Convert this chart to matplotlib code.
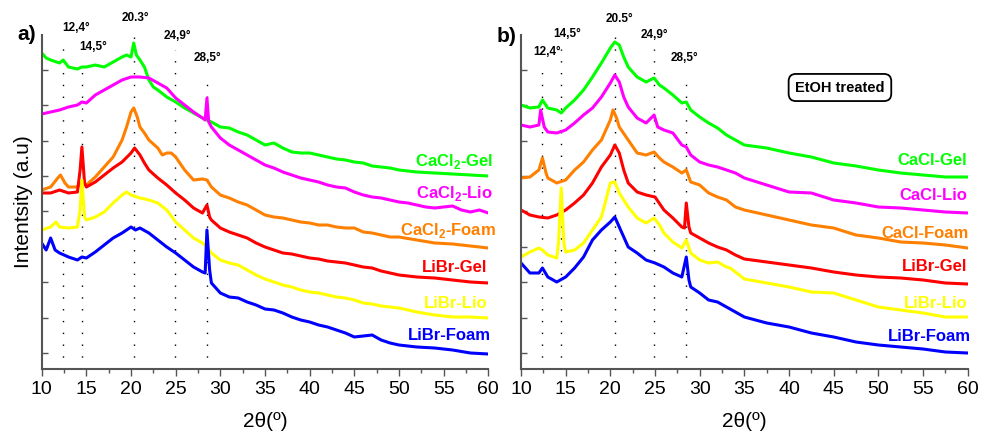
import matplotlib
matplotlib.use("Agg")
import matplotlib.pyplot as plt
from matplotlib.ticker import MultipleLocator, FixedLocator, NullFormatter

plt.rcParams['font.family'] = ['Liberation Sans', 'DejaVu Sans']
plt.rcParams['mathtext.fontset'] = 'custom'
plt.rcParams['mathtext.rm'] = 'Liberation Sans'
plt.rcParams['mathtext.bf'] = 'Liberation Sans:bold'

# ---------------- panel a: as prepared ----------------
a_cacl2_gel = [(10, 316), (10.5, 311), (11, 309), (12, 306), (12.4, 309), (13, 302), (14, 300),
               (14.5, 302), (15, 302), (16, 304), (17, 302), (18, 307), (19, 312), (19.5, 314),
               (20, 312), (20.3, 326), (20.6, 314), (21, 309), (21.5, 302), (22, 289), (22.5, 282),
               (23, 279), (24, 272), (25, 267), (26, 261), (27, 256), (28, 251), (29, 247),
               (30, 242), (31, 241), (32, 237), (33, 234), (34, 229), (35, 224), (36, 226),
               (37, 221), (38, 217), (39, 216), (40, 216), (41, 214), (42, 212), (43, 210),
               (44, 209), (45, 207), (46, 206), (47, 203), (48, 202), (49, 201), (50, 199),
               (52, 197), (54, 196), (56, 195), (58, 194), (60, 193)]
a_cacl2_lio = [(10, 255), (11, 257), (12, 259), (13, 262), (14, 264), (14.5, 267), (15, 266),
               (16, 274), (17, 279), (18, 284), (19, 289), (20, 292), (21, 292), (22, 291),
               (23, 286), (24, 281), (25, 271), (26, 264), (27, 257), (28, 251), (28.3, 249),
               (28.5, 271), (28.7, 247), (29, 242), (30, 231), (31, 224), (32, 219), (33, 214),
               (34, 209), (35, 204), (36, 201), (37, 197), (38, 194), (39, 191), (40, 189),
               (41, 187), (42, 184), (43, 182), (44, 181), (45, 177), (46, 174), (47, 172),
               (48, 171), (49, 169), (50, 167), (51, 166), (52, 164), (53, 162), (54, 161),
               (55, 162), (56, 163), (57, 159), (58, 157), (59, 159), (60, 156)]
a_cacl2_foam = [(10, 179), (11, 182), (11.8, 191), (12.1, 194), (12.6, 186), (13, 182), (14, 182),
                (14.5, 186), (15, 184), (16, 192), (17, 202), (18, 212), (19, 229), (19.5, 242),
                (20, 257), (20.3, 261), (20.7, 252), (21, 242), (21.5, 236), (22, 229), (23, 221),
                (23.5, 214), (24, 216), (24.5, 216), (25, 212), (26, 199), (27, 189), (28, 190),
                (28.5, 189), (29, 182), (30, 174), (31, 171), (32, 167), (33, 164), (34, 159),
                (35, 154), (36, 152), (37, 151), (38, 149), (39, 147), (40, 146), (41, 144),
                (42, 144), (43, 142), (44, 141), (45, 141), (46, 137), (47, 136), (48, 134),
                (49, 132), (50, 132), (52, 129), (54, 126), (56, 125), (58, 123), (60, 121)]
a_libr_gel = [(10, 176), (11, 176), (12, 179), (13, 176), (14, 177), (14.3, 199), (14.5, 222),
              (14.8, 186), (15, 182), (16, 187), (17, 194), (18, 201), (19, 207), (20, 216),
              (20.4, 221), (21, 214), (21.5, 206), (22, 199), (23, 191), (24, 184), (25, 176),
              (26, 169), (27, 161), (28, 156), (28.5, 164), (28.8, 152), (29, 149), (30, 141),
              (31, 137), (32, 134), (33, 131), (34, 126), (35, 122), (36, 119), (37, 116),
              (38, 115), (39, 113), (40, 111), (41, 110), (42, 108), (43, 107), (44, 106),
              (45, 104), (46, 102), (47, 101), (48, 98), (49, 96), (50, 94), (52, 92), (54, 91),
              (56, 89), (58, 87), (60, 86)]
a_libr_lio = [(10, 139), (11, 142), (11.6, 147), (12, 142), (13, 141), (14, 142), (14.3, 159),
              (14.5, 189), (14.8, 152), (15, 149), (16, 152), (17, 157), (18, 166), (19, 174),
              (19.5, 177), (20, 174), (21, 171), (22, 169), (23, 166), (24, 159), (25, 147),
              (26, 139), (27, 131), (28, 126), (28.5, 122), (29, 116), (30, 109), (31, 106),
              (32, 104), (33, 99), (34, 94), (35, 90), (36, 87), (37, 84), (38, 82), (39, 79),
              (40, 77), (41, 76), (42, 74), (43, 72), (44, 71), (45, 69), (46, 66), (47, 65),
              (48, 63), (49, 62), (50, 61), (52, 57), (54, 54), (56, 52), (58, 52), (60, 51)]
a_libr_foam = [(10, 126), (10.5, 119), (11, 131), (11.5, 119), (12, 116), (13, 112), (14, 109),
               (14.5, 112), (15, 111), (16, 117), (17, 124), (18, 131), (19, 136), (20, 142),
               (20.5, 139), (21, 141), (22, 136), (23, 129), (24, 122), (25, 116), (26, 109),
               (27, 102), (28, 97), (28.3, 96), (28.5, 139), (28.8, 99), (29, 86), (30, 76),
               (31, 72), (32, 71), (33, 67), (34, 64), (35, 60), (36, 59), (37, 56), (38, 52),
               (39, 49), (40, 47), (41, 44), (42, 42), (43, 39), (44, 36), (45, 32), (46, 33),
               (47, 34), (48, 29), (49, 26), (50, 24), (52, 22), (54, 21), (56, 19), (58, 16),
               (60, 15)]

# ---------------- panel b: EtOH treated ----------------
b_cacl_gel = [(10, 264), (11, 261), (12, 262), (12.4, 269), (13, 261), (14, 259), (14.5, 256),
              (15, 261), (16, 269), (17, 279), (18, 292), (19, 306), (20, 321), (20.5, 327),
              (21, 324), (21.5, 312), (22, 302), (23, 292), (24, 287), (24.9, 291), (25.5, 284),
              (26, 281), (27, 274), (28, 266), (28.5, 267), (29, 259), (30, 252), (31, 246),
              (32, 241), (33, 234), (34, 229), (35, 224), (37.5, 221), (40, 216), (42.5, 212),
              (45, 206), (47.5, 203), (50, 199), (52.5, 196), (55, 194), (57.5, 192), (60, 192)]
b_cacl_lio = [(10, 244), (11, 242), (12, 244), (12.2, 259), (12.6, 242), (13, 237), (14, 236),
              (15, 239), (16, 246), (17, 254), (18, 261), (19, 272), (20, 286), (20.5, 294),
              (21, 287), (21.5, 272), (22, 262), (23, 251), (24, 246), (24.9, 254), (25.3, 242),
              (26, 239), (27, 236), (28, 224), (28.5, 222), (29, 214), (30, 207), (31, 204),
              (32, 202), (33, 199), (34, 196), (35, 191), (37.5, 184), (40, 177), (42.5, 176),
              (45, 169), (47.5, 166), (50, 162), (52.5, 161), (55, 159), (57.5, 157), (60, 156)]
b_cacl_foam = [(10, 191), (11, 192), (12, 199), (12.4, 211), (12.8, 196), (13, 191), (14, 186),
               (15, 189), (16, 199), (17, 207), (18, 219), (19, 229), (20, 249), (20.3, 259),
               (20.7, 251), (21, 242), (22, 229), (23, 216), (24, 214), (24.9, 217), (25.5, 211),
               (26, 207), (27, 202), (28, 196), (28.5, 199), (29, 187), (30, 184), (31, 176),
               (32, 172), (33, 169), (34, 162), (35, 159), (37.5, 154), (40, 149), (42.5, 144),
               (45, 141), (47.5, 134), (50, 131), (52.5, 127), (55, 126), (57.5, 124), (60, 121)]
b_libr_gel = [(10, 159), (11, 154), (12, 152), (13, 151), (14, 154), (15, 159), (16, 166),
              (17, 174), (18, 186), (19, 202), (20, 214), (20.5, 224), (21, 216), (21.5, 199),
              (22, 186), (23, 177), (24, 174), (25, 172), (26, 159), (27, 151), (28, 142),
              (28.3, 141), (28.5, 166), (28.8, 142), (29, 136), (30, 131), (31, 126), (32, 122),
              (33, 119), (34, 114), (35, 110), (37.5, 107), (40, 104), (42.5, 101), (45, 97),
              (47.5, 94), (50, 92), (52.5, 91), (55, 89), (57.5, 86), (60, 85)]
b_libr_lio = [(10, 112), (11, 117), (12, 121), (12.4, 119), (13, 114), (14, 111), (14.2, 126),
              (14.5, 181), (14.8, 126), (15, 117), (16, 119), (17, 126), (18, 139), (19, 152),
              (19.5, 169), (20, 186), (20.5, 187), (21, 176), (22, 162), (23, 151), (24, 146),
              (24.9, 151), (25.5, 144), (26, 136), (27, 127), (28, 121), (28.5, 129), (29, 116),
              (30, 109), (31, 106), (32, 107), (33, 102), (33.4, 101), (34, 97), (35, 90),
              (37.5, 86), (40, 82), (42.5, 77), (45, 76), (47.5, 69), (50, 62), (52.5, 59),
              (55, 56), (57.5, 52), (60, 52)]
b_libr_foam = [(10, 106), (11, 96), (12, 96), (12.4, 101), (13, 92), (14, 87), (15, 92),
               (16, 101), (17, 112), (18, 129), (19, 139), (20, 147), (20.5, 152), (21, 142),
               (21.5, 132), (22, 122), (23, 116), (24, 109), (25, 106), (26, 102), (27, 96),
               (28, 92), (28.5, 112), (28.8, 89), (29, 82), (30, 76), (31, 69), (32, 67),
               (33, 62), (34, 57), (35, 52), (37.5, 46), (40, 42), (42.5, 36), (45, 32),
               (47.5, 27), (50, 24), (52.5, 22), (55, 20), (57.5, 17), (60, 16)]

series_colors = ['#00FF00', '#FF00FF', '#FF8000', '#FF0000', '#FFFF00', '#0000FF']

a_series = [a_cacl2_gel, a_cacl2_lio, a_cacl2_foam, a_libr_gel, a_libr_lio, a_libr_foam]
b_series = [b_cacl_gel, b_cacl_lio, b_cacl_foam, b_libr_gel, b_libr_lio, b_libr_foam]

a_names = [r'CaCl$_\mathbf{2}$-Gel', r'CaCl$_\mathbf{2}$-Lio', r'CaCl$_\mathbf{2}$-Foam',
           'LiBr-Gel', 'LiBr-Lio', 'LiBr-Foam']
b_names = ['CaCl-Gel', 'CaCl-Lio', 'CaCl-Foam', 'LiBr-Gel', 'LiBr-Lio', 'LiBr-Foam']

# curve name anchors (right edge x, baseline y)
a_name_pos = [(60.5, 203), (60.5, 171), (60.8, 134), (59.9, 97), (59.9, 61), (60.3, 29)]
b_name_pos = [(59.95, 204), (59.95, 169), (60.05, 131), (59.95, 98), (59.95, 61), (60.3, 28)]

# reflection markers
a_peaks = [12.4, 14.5, 20.3, 24.9, 28.5]
a_peak_text = ['12,4°', '14,5°', '20.3°', '24,9°', '28,5°']
a_peak_top = [330, 307, 337, 319, 293]
a_peak_label_pos = [(13.84, 341), (15.74, 322), (20.5, 351), (25.15, 333), (28.5, 311)]

b_peaks = [12.4, 14.5, 20.5, 24.9, 28.5]
b_peak_text = ['12,4°', '14,5°', '20.5°', '24,9°', '28,5°']
b_peak_top = [304, 320, 337, 320, 293]
b_peak_label_pos = [(12.91, 317), (15.2, 335), (21.03, 350), (24.9, 334), (28.3, 311)]

y_ticks = [16 + 35.4 * k for k in range(9)]
x_major = list(range(10, 61, 5))

W, H = 983, 438
fig = plt.figure(figsize=(W / 100, H / 100), dpi=100)
ax_a = fig.add_axes([41.7 / W, 69 / H, 446.6 / W, 334 / H])
ax_b = fig.add_axes([521 / W, 69 / H, 446.7 / W, 334 / H])

spine_col = '#555555'


def draw_panel(ax, series, names, name_pos, peaks, peak_text, peak_top, peak_label_pos):
    ax.set_xlim(10, 60)
    ax.set_ylim(0, 334)
    for s in ('top', 'right'):
        ax.spines[s].set_visible(False)
    for s in ('left', 'bottom'):
        ax.spines[s].set_color(spine_col)
        ax.spines[s].set_linewidth(1.5)
    ax.xaxis.set_major_locator(FixedLocator(x_major))
    ax.xaxis.set_minor_locator(MultipleLocator(2.5))
    ax.tick_params(axis='x', which='major', direction='out', length=5, width=1,
                   color=spine_col, labelsize=14, pad=4)
    ax.tick_params(axis='x', which='minor', direction='out', length=3, width=1, color=spine_col)
    ax.yaxis.set_major_locator(FixedLocator(y_ticks))
    ax.yaxis.set_major_formatter(NullFormatter())
    ax.tick_params(axis='y', which='major', direction='in', length=4, width=1, color=spine_col)

    for xp, top in zip(peaks, peak_top):
        ax.plot([xp, xp], [0, top], color='black', lw=1.0, linestyle=(0, (1, 7.5)),
                zorder=1, clip_on=False)
    for txt, (xp, yp) in zip(peak_text, peak_label_pos):
        ax.text(xp, yp, txt, fontsize=8.5, fontweight='bold', ha='center', va='center',
                clip_on=False)

    for data, col in zip(series, series_colors):
        xs = [p[0] for p in data]
        ys = [p[1] for p in data]
        ax.plot(xs, ys, color=col, lw=2.2, zorder=2, solid_joinstyle='round')

    for name, col, (xp, yp) in zip(names, series_colors, name_pos):
        ax.text(xp, yp, name, color=col, fontsize=12, fontweight='bold', ha='right',
                va='baseline', clip_on=False, zorder=3)
    ax.set_xlabel('2θ(º)', fontsize=15, labelpad=10)


draw_panel(ax_a, a_series, a_names, a_name_pos, a_peaks, a_peak_text, a_peak_top,
           a_peak_label_pos)
draw_panel(ax_b, b_series, b_names, b_name_pos, b_peaks, b_peak_text, b_peak_top,
           b_peak_label_pos)

ax_a.set_ylabel('Intentsity (a.u)', fontsize=15, labelpad=3)

fig.text(27 / W, 1 - 35 / H, 'a)', fontsize=15, fontweight='bold', ha='center', va='center')
fig.text(507 / W, 1 - 36 / H, 'b)', fontsize=15, fontweight='bold', ha='center', va='center')

ax_b.text(45.7, 281.5, 'EtOH treated', fontsize=10.5, fontweight='bold', ha='center',
          va='center', bbox=dict(boxstyle='round,pad=0.45,rounding_size=0.5',
                                 facecolor='white', edgecolor='black', linewidth=1.3))

fig.savefig('out.png', dpi=100)
